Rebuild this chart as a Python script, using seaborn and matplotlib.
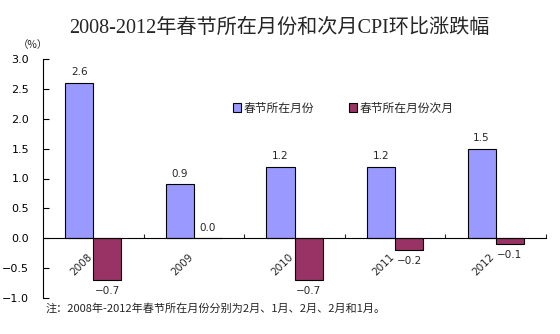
import matplotlib
matplotlib.use("Agg")
import matplotlib.pyplot as plt
import matplotlib.transforms as mtransforms
from matplotlib.patches import Patch
import seaborn as sns
import pandas as pd

years = ["2008", "2009", "2010", "2011", "2012"]
series_names = ["春节所在月份", "春节所在月份次月"]
festival_month = [2.6, 0.9, 1.2, 1.2, 1.5]
next_month = [-0.7, 0.0, -0.7, -0.2, -0.1]
colors = ["#9999FF", "#993366"]

title = "2008-2012年春节所在月份和次月CPI环比涨跌幅"
note = "注：2008年-2012年春节所在月份分别为2月、1月、2月、2月和1月。"
unit = "（%）"

df = pd.DataFrame({
    "year": years * 2,
    "series": [series_names[0]] * len(years) + [series_names[1]] * len(years),
    "value": festival_month + next_month,
})

sns.set_style("ticks")
plt.rcParams["font.family"] = ["DejaVu Sans", "Noto Sans CJK SC"]

fig = plt.figure(figsize=(5.6, 3.34), dpi=100)
ax = fig.add_axes([43 / 560, 36 / 334, 503 / 560, 239 / 334])

sns.barplot(data=df, x="year", y="value", hue="series", hue_order=series_names,
            palette=colors, width=0.56, edgecolor="black", linewidth=0.8,
            saturation=1, legend=False, ax=ax)

ax.set_xlim(-0.5, 4.5)
ax.set_ylim(-1.0, 3.0)
ax.set_xlabel("")
ax.set_ylabel("")

# y axis
yticks = [-1.0, -0.5, 0.0, 0.5, 1.0, 1.5, 2.0, 2.5, 3.0]
ax.set_yticks(yticks)
ax.set_yticklabels([f"{v:.1f}".replace("-", "\u2212") for v in yticks], fontsize=8)
ax.tick_params(axis="y", direction="in", length=4, width=0.8, pad=10, colors="black")

# x axis on the zero line
ax.spines["top"].set_visible(False)
ax.spines["right"].set_visible(False)
ax.spines["bottom"].set_position(("data", 0))
for sp in ("left", "bottom"):
    ax.spines[sp].set_linewidth(0.8)
    ax.spines[sp].set_color("black")

ax.set_xticks(range(len(years)))
ax.set_xticklabels(years, rotation=45, ha="right", rotation_mode="anchor", fontsize=7.5)
ax.set_xticks([i + 0.5 for i in range(len(years))], minor=True)
ax.tick_params(axis="x", which="major", length=0, pad=10)
ax.tick_params(axis="x", which="minor", direction="in", length=3, width=0.8)
shift = mtransforms.ScaledTranslation(-6 / 100, 0, fig.dpi_scale_trans)
for lbl in ax.get_xticklabels():
    lbl.set_transform(lbl.get_transform() + shift)

# value labels
off = 0.14
for i, v in enumerate(festival_month):
    ax.annotate(f"{v:.1f}", (i - off, v), xytext=(0, 4), textcoords="offset points",
                ha="center", va="bottom", fontsize=7.5)
for i, v in enumerate(next_month):
    if v < 0:
        ax.annotate(f"{v:.1f}".replace("-", "\u2212"), (i + off, v), xytext=(0, -4),
                    textcoords="offset points", ha="center", va="top", fontsize=7.5)
    else:
        ax.annotate(f"{v:.1f}", (i + off, v), xytext=(0, 4), textcoords="offset points",
                    ha="center", va="bottom", fontsize=7.5)

# legend
handles = [Patch(facecolor=c, edgecolor="black", linewidth=0.8) for c in colors]
ax.legend(handles, series_names, ncol=2, frameon=False, loc="center left",
          bbox_to_anchor=(222 / 560, (334 - 108) / 334), bbox_transform=fig.transFigure,
          handlelength=0.7, handleheight=0.7, handletextpad=0.2,
          columnspacing=3.0, prop={"family": ["Noto Sans CJK SC"], "size": 8.5})

fig.text(279 / 560, 1 - 28 / 334, title, ha="center", va="center", fontsize=14.5,
         family=["Liberation Serif", "Noto Sans CJK SC"])
fig.text(18 / 560, 1 - 45 / 334, unit, ha="left", va="center", fontsize=7.5,
         family=["Noto Sans CJK SC"])
fig.text(46 / 560, 1 - 308 / 334, note, ha="left", va="center", fontsize=8,
         family=["Noto Sans CJK SC", "DejaVu Sans"])

fig.savefig("out.png", dpi=100, facecolor="white")
